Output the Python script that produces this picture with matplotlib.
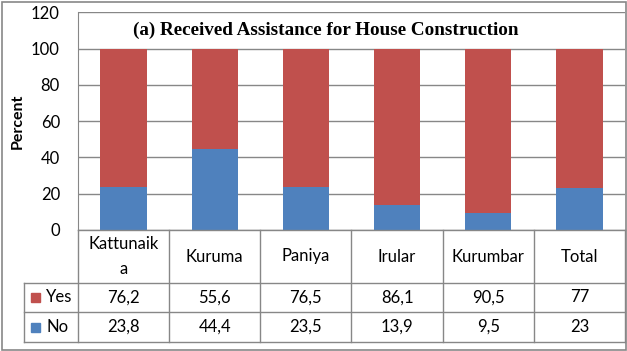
import numpy as np
import matplotlib.pyplot as plt
from matplotlib.patches import Rectangle

groups = ["Kattunaik\na", "Kuruma", "Paniya", "Irular", "Kurumbar", "Total"]
yes = [76.2, 55.6, 76.5, 86.1, 90.5, 77]
no = [23.8, 44.4, 23.5, 13.9, 9.5, 23]
yes_lbl = ["76,2", "55,6", "76,5", "86,1", "90,5", "77"]
no_lbl = ["23,8", "44,4", "23,5", "13,9", "9,5", "23"]

RED = "#C0504D"
BLUE = "#4F81BD"
GREY = "#878787"
FONT = "Lato"

W, H = 627, 351
fig = plt.figure(figsize=(W / 100, H / 100), dpi=100)

# plot area in pixels
x0, x1 = 78, 625
ytop, ybot = 12.3, 230
ax = fig.add_axes([x0 / W, 1 - ybot / H, (x1 - x0) / W, (ybot - ytop) / H])

x = np.arange(len(groups))
ax.bar(x, no, width=0.51, color=BLUE, zorder=3)
ax.bar(x, yes, bottom=no, width=0.51, color=RED, zorder=3)

ax.set_xlim(-0.5, len(groups) - 0.5)
ax.set_ylim(0, 120)
ax.set_yticks(range(0, 121, 20))
ax.yaxis.grid(True, color=GREY, lw=1, zorder=0)
ax.tick_params(axis="y", length=0, pad=13, labelsize=12)
ax.tick_params(axis="x", length=0, labelbottom=False)
for t in ax.get_yticklabels():
    t.set_fontfamily(FONT)
for s in ["top", "right", "bottom"]:
    ax.spines[s].set_visible(False)
ax.spines["left"].set_color(GREY)
fig.text(18 / W, 1 - 121 / H, "Percent", rotation=90, ha="center", va="center",
         fontfamily=FONT, fontweight="bold", fontsize=11.5)

ax.text(0.453, 0.918, "(a) Received Assistance for House Construction",
        transform=ax.transAxes, ha="center", va="center",
        fontfamily="Liberation Serif", fontweight="bold", fontsize=13.8)

# data table below the axes (pixel rows)
def fy(p):
    return 1 - p / H

rows = [230, 283, 312, 342]
lab_x = 24
colw = (x1 - x0) / len(groups)
lkw = dict(color=GREY, lw=1, transform=fig.transFigure, clip_on=False)
for i, r in enumerate(rows):
    left = x0 if i == 0 else lab_x
    fig.add_artist(plt.Line2D([left / W, x1 / W], [fy(r), fy(r)], **lkw))
for k in range(len(groups) + 1):
    xx = (x0 + k * colw) / W
    fig.add_artist(plt.Line2D([xx, xx], [fy(rows[0]), fy(rows[-1])], **lkw))
fig.add_artist(plt.Line2D([lab_x / W, lab_x / W], [fy(rows[1]), fy(rows[-1])], **lkw))

tk = dict(ha="center", va="center", fontfamily=FONT, fontsize=12, transform=fig.transFigure)
for k, g in enumerate(groups):
    cx = (x0 + (k + 0.5) * colw) / W
    fig.text(cx, fy((rows[0] + rows[1]) / 2), g, linespacing=1.75, **tk)
    fig.text(cx, fy((rows[1] + rows[2]) / 2), yes_lbl[k], **tk)
    fig.text(cx, fy((rows[2] + rows[3]) / 2), no_lbl[k], **tk)

for (r0, r1), name, col in [((rows[1], rows[2]), "Yes", RED), ((rows[2], rows[3]), "No", BLUE)]:
    cy = (r0 + r1) / 2
    fig.add_artist(Rectangle((31 / W, fy(cy + 4.5)), 9 / W, 9 / H, color=col,
                             transform=fig.transFigure))
    fig.text(46 / W, fy(cy), name, ha="left", va="center", fontfamily=FONT, fontsize=12)

# outer chart border
fig.add_artist(Rectangle((1.5 / W, 1.5 / H), (W - 3) / W, (H - 3) / H, fill=False,
                         edgecolor=GREY, lw=1.2, transform=fig.transFigure))

fig.savefig("out.png", dpi=100)
